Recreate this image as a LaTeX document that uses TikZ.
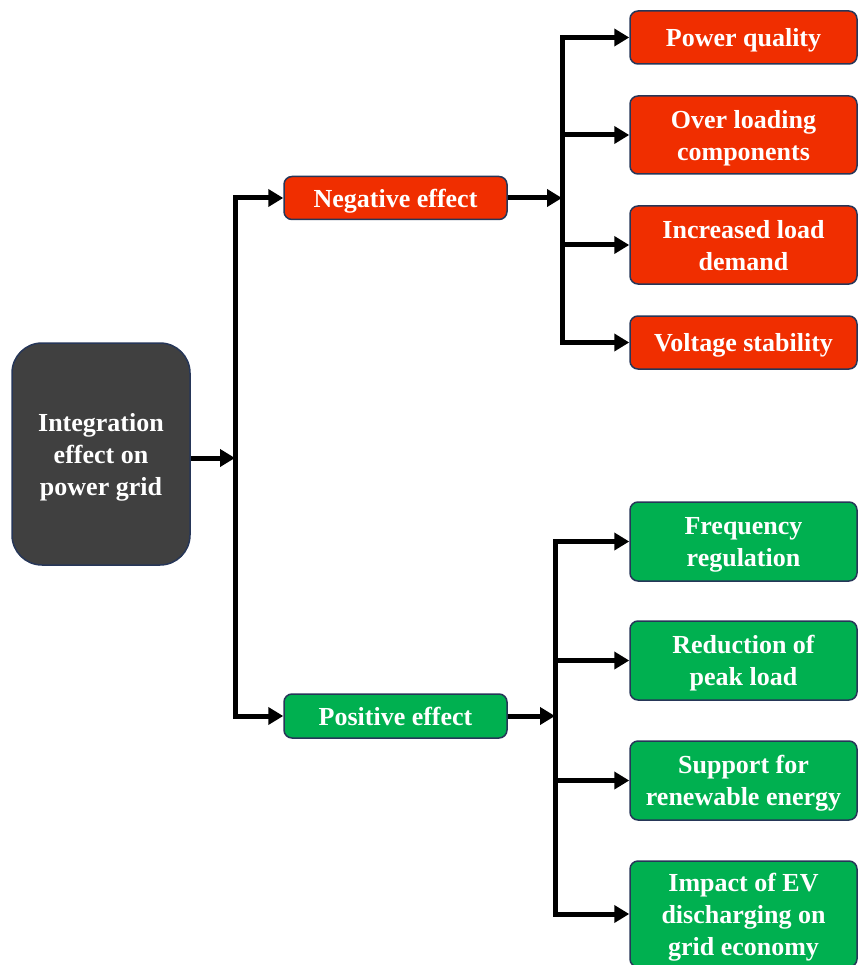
\documentclass[tikz,border=0pt]{standalone}
\usepackage{fontspec}
\setmainfont{Liberation Serif}
\usetikzlibrary{arrows.meta}

\definecolor{negred}{RGB}{240,46,0}
\definecolor{posgreen}{RGB}{0,176,80}
\definecolor{maingray}{RGB}{64,64,64}
\definecolor{rim}{RGB}{38,54,88}

\begin{document}
\begin{tikzpicture}[x=1pt,y=-1pt]
        \useasboundingbox (0,0) rectangle (858,965);

        \begin{scope}[every node/.style={draw=rim, line width=1.5pt, text=white,
            font=\fontsize{26}{32}\selectfont\bfseries, align=center,
            inner sep=0pt, text depth=-9pt, rounded corners=8pt}]
          \node[fill=maingray, minimum width=178pt, minimum height=222pt, rounded corners=30pt]
            (grid) at (101,454) {Integration\\effect on\\power grid};

          \node[fill=negred, minimum width=223pt, minimum height=43pt] (neg) at (395.5,198) {Negative effect};
          \node[fill=posgreen, minimum width=223pt, minimum height=44pt] (pos) at (395.5,716) {Positive effect};

          \begin{scope}[every node/.append style={minimum width=227pt}]
            \node[fill=negred, minimum height=53pt] (pq) at (743.5,37.5) {Power quality};
            \node[fill=negred, minimum height=78pt] (ol) at (743.5,135) {Over loading\\components};
            \node[fill=negred, minimum height=78pt] (ld) at (743.5,245) {Increased load\\demand};
            \node[fill=negred, minimum height=53pt] (vs) at (743.5,342.5) {Voltage stability};

            \node[fill=posgreen, minimum height=79pt] (fr) at (743.5,541.5) {Frequency\\regulation};
            \node[fill=posgreen, minimum height=79pt] (pk) at (743.5,660.5) {Reduction of\\peak load};
            \node[fill=posgreen, minimum height=79pt] (re) at (743.5,780.5) {Support for\\renewable energy};
            \node[fill=posgreen, minimum height=106pt] (ev) at (743.5,914) {Impact of EV\\discharging on\\grid economy};
          \end{scope}
        \end{scope}

        \coordinate (j1) at (235,458);
        \coordinate (j2) at (562,198);
        \coordinate (j3) at (555,716);

        \begin{scope}[every path/.style={line width=5pt, -{Triangle[length=15pt,width=17pt]}}]
          \draw (grid.east |- j1) -- (j1);
          \draw (j1) |- (neg.west);
          \draw (j1) |- (pos.west);

          \draw (neg.east) -- (j2);
          \draw (j2) |- (pq.west);
          \draw (j2) |- (ol.west);
          \draw (j2) |- (ld.west);
          \draw (j2) |- (vs.west);

          \draw (pos.east) -- (j3);
          \draw (j3) |- (fr.west);
          \draw (j3) |- (pk.west);
          \draw (j3) |- (re.west);
          \draw (j3) |- (ev.west);
        \end{scope}

      \end{tikzpicture}
\end{document}
